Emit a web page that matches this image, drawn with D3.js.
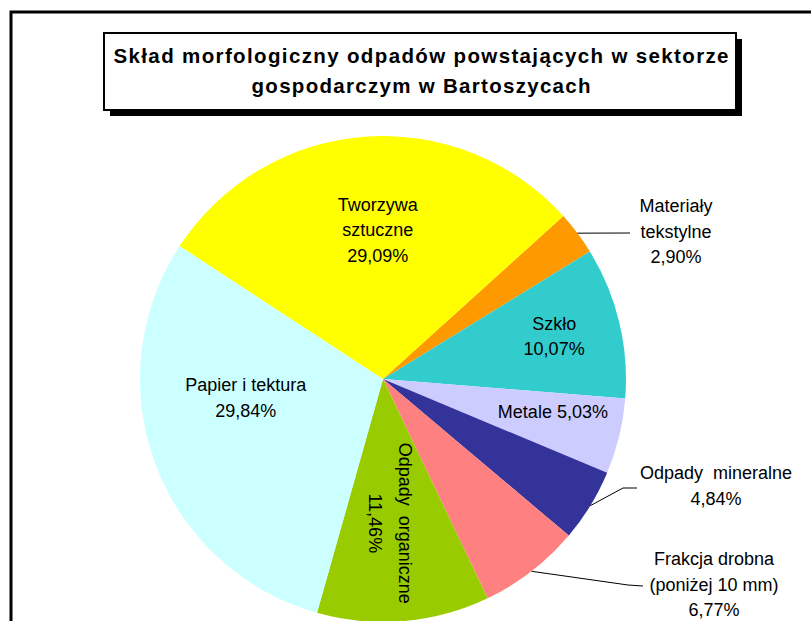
<!DOCTYPE html>
<html>
<head>
<meta charset="utf-8">
<script src="https://cdn.jsdelivr.net/npm/d3@7"></script>
<style>
  html, body { margin: 0; padding: 0; background: #fff; overflow: hidden; }
  text { font-family: Arial, "Liberation Sans", sans-serif; fill: #000; }
</style>
</head>
<body>
<div id="chart"></div>
<script>
var width = 811;
var height = 621;

// data, in drawing order (clockwise from the first slice)
var categories = ["Materiały tekstylne", "Szkło", "Metale", "Odpady mineralne",
                  "Frakcja drobna (poniżej 10 mm)", "Odpady organiczne",
                  "Papier i tektura", "Tworzywa sztuczne"];
var shares = [2.90, 10.07, 5.03, 4.84, 6.77, 11.46, 29.84, 29.09];
var shareLabels = ["2,90%", "10,07%", "5,03%", "4,84%", "6,77%", "11,46%", "29,84%", "29,09%"];
var colors = ["#FF9900", "#33CCCC", "#CCCCFF", "#333399", "#FF8080", "#99CC00", "#CCFFFF", "#FFFF00"];
var titleLines = ["Skład morfologiczny odpadów powstających w sektorze",
                  "gospodarczym w Bartoszycach"];

// label layout: text lines, where to put them (angle deg / radius share) or outside with a leader
var labelLines = [
  ["Materiały", "tekstylne", "2,90%"],
  ["Szkło", "10,07%"],
  ["Metale 5,03%"],
  ["Odpady  mineralne", "4,84%"],
  ["Frakcja drobna", "(poniżej 10 mm)", "6,77%"],
  ["Odpady  organiczne", "11,46%"],
  ["Papier i tektura", "29,84%"],
  ["Tworzywa", "sztuczne", "29,09%"]
];
var labelLayout = [
  {outside: true, x: 676, y: 212, knee: [630, 233], end: [630, 233]},
  {angle: 78, r: 0.72, y0: -19},
  {angle: 100, r: 0.71, y0: 3},
  {outside: true, x: 716, y: 479, knee: [623, 488], end: [637, 488]},
  {outside: true, x: 714, y: 565, knee: [628, 585], end: [643, 586]},
  {angle: 178, r: 0.59, rotate: true},
  {angle: 262, r: 0.57, y0: -13},
  {angle: 358, r: 0.61, y0: -26}
];

function createSVG() {
  return d3.select("#chart").append("svg")
    .attr("width", width)
    .attr("height", height);
}

function drawFrame(svg) {
  svg.append("path")
    .attr("d", "M11," + (height + 5) + " V12 H" + (width + 5))
    .attr("fill", "none")
    .attr("stroke", "#000")
    .attr("stroke-width", 3);
}

function drawTitle(svg) {
  var box = {x: 104, y: 33, w: 632, h: 77};
  svg.append("rect")
    .attr("x", box.x + 6).attr("y", box.y + 6)
    .attr("width", box.w).attr("height", box.h)
    .attr("fill", "#000");
  svg.append("rect")
    .attr("x", box.x).attr("y", box.y)
    .attr("width", box.w).attr("height", box.h)
    .attr("fill", "#fff")
    .attr("stroke", "#000")
    .attr("stroke-width", 2);

  var lens = [615, 339];
  var ys = [63, 93];
  titleLines.forEach(function(t, i) {
    svg.append("text")
      .attr("x", 421).attr("y", ys[i])
      .attr("text-anchor", "middle")
      .attr("font-weight", "bold")
      .attr("font-size", 20.5)
      .attr("textLength", lens[i])
      .attr("lengthAdjust", "spacing")
      .text(t);
  });
}

function drawPie(svg) {
  var cx = 383, cy = 379, radius = 243;
  var start = 47.9 * Math.PI / 180;

  var pie = d3.pie().sort(null)
    .startAngle(start).endAngle(start + 2 * Math.PI)
    .value(function(d) { return d; });
  var arcs = pie(shares);
  var arc = d3.arc().innerRadius(0).outerRadius(radius);

  var g = svg.append("g").attr("transform", "translate(" + cx + "," + cy + ")");
  g.selectAll("path.slice")
    .data(arcs)
    .enter().append("path")
    .attr("class", "slice")
    .attr("d", arc)
    .attr("fill", function(d, i) { return colors[i]; });

  var lineH = 25.5;
  arcs.forEach(function(d, i) {
    var lay = labelLayout[i];
    var lines = labelLines[i];
    var lab = svg.append("text")
      .attr("text-anchor", "middle")
      .attr("font-size", 18)
      .style("white-space", "pre");

    if (lay.outside) {
      var mid = (d.startAngle + d.endAngle) / 2;
      var p0 = [cx + radius * Math.sin(mid), cy - radius * Math.cos(mid)];
      svg.append("polyline")
        .attr("points", [p0, lay.knee, lay.end].map(function(p) { return p.join(","); }).join(" "))
        .attr("fill", "none")
        .attr("stroke", "#000")
        .attr("stroke-width", 1);
      lines.forEach(function(t, k) {
        lab.append("tspan").attr("x", lay.x).attr("y", lay.y + k * lineH).text(t);
      });
    } else if (lay.rotate) {
      var a = lay.angle * Math.PI / 180;
      var px = cx + radius * lay.r * Math.sin(a), py = cy - radius * lay.r * Math.cos(a);
      lab.attr("transform", "translate(" + (px + 4) + "," + (py + 1) + ") rotate(90)");
      lines.forEach(function(t, k) {
        lab.append("tspan").attr("x", 0).attr("y", -7 + k * 30).text(t);
      });
    } else {
      var b = lay.angle * Math.PI / 180;
      var lx = cx + radius * lay.r * Math.sin(b), ly = cy - radius * lay.r * Math.cos(b);
      lines.forEach(function(t, k) {
        lab.append("tspan").attr("x", lx).attr("y", ly + lay.y0 + 6 + k * lineH).text(t);
      });
    }
  });
}

function main() {
  var svg = createSVG();
  drawFrame(svg);
  drawTitle(svg);
  drawPie(svg);
}

window.onload = function() {
  main();
};
</script>
</body>
</html>
